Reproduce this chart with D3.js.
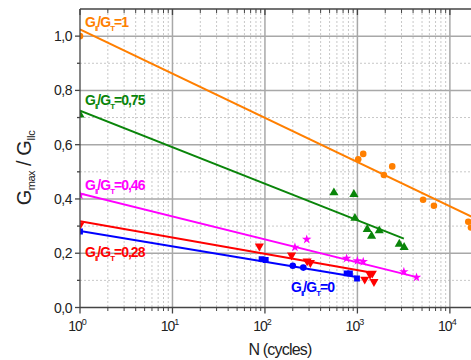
<!DOCTYPE html>
<html>
<head>
<meta charset="utf-8">
<script src="https://cdn.jsdelivr.net/npm/d3@7"></script>
<style>
  body { margin: 0; background: #fff; }
  svg { display: block; font-family: "Liberation Sans", Arial, sans-serif; }
</style>
</head>
<body>
<script>
// ratio labels, one per series
const ratioLabels = ["1", "0,75", "0,46", "0,28", "0"];

// measured points (N, Gmax/GIIc)
const orangeN = [1, 1020, 1156, 1933, 2380, 5130, 6720, 15800, 16900];
const orangeG = [1.0, 0.546, 0.566, 0.488, 0.52, 0.397, 0.375, 0.316, 0.295];
const greenN = [1, 557, 916, 940, 1277, 1423, 1722, 2836, 3200];
const greenG = [0.71, 0.423, 0.417, 0.329, 0.288, 0.263, 0.283, 0.234, 0.222];
const magentaN = [1, 211, 283, 764, 1000, 1156, 3180, 4360];
const magentaG = [0.414, 0.222, 0.251, 0.181, 0.172, 0.169, 0.132, 0.111];
const redN = [1, 87, 194, 286, 310, 1200, 1370, 1450, 1510];
const redG = [0.304, 0.226, 0.193, 0.171, 0.165, 0.104, 0.122, 0.126, 0.095];
const blueSqN = [1, 92, 102, 764, 830, 990];
const blueSqG = [0.28, 0.178, 0.175, 0.126, 0.126, 0.107];
const blueCircN = [200, 260];
const blueCircG = [0.154, 0.147];

// fitted lines, end points [N, G]
const orangeFit = [[1, 1.025], [17800, 0.332]];
const greenFit = [[1, 0.725], [3180, 0.254]];
const magentaFit = [[1, 0.42], [4500, 0.111]];
const redFit = [[1, 0.318], [1450, 0.128]];
const blueFit = [[1, 0.282], [980, 0.112]];

const yTicks = [0, 0.2, 0.4, 0.6, 0.8, 1.0];
const xDecades = [0, 1, 2, 3, 4];

const W = 471, H = 360;
const pLeft = 80, pTop = 9, pRight = 473, pBottom = 307.5;

const x = d3.scaleLog().domain([1, Math.pow(10, 4.25)]).range([pLeft, pRight]);
const y = d3.scaleLinear().domain([0, 1.1]).range([pBottom, pTop]);

const svg = d3.select("body").append("svg")
  .attr("width", W)
  .attr("height", H);

svg.append("clipPath").attr("id", "plot")
  .append("rect")
  .attr("x", pLeft).attr("y", pTop)
  .attr("width", pRight - pLeft).attr("height", pBottom - pTop);

// minor x values 2..9 per decade
const minorX = [];
xDecades.forEach(function(k) {
  for (let m = 2; m <= 9; m++) {
    const v = m * Math.pow(10, k);
    if (v < x.domain()[1]) minorX.push(v);
  }
});
const majorX = xDecades.map(function(k) { return Math.pow(10, k); });
const minorY = [0.1, 0.3, 0.5, 0.7, 0.9];

const grid = svg.append("g");
grid.selectAll(".mx").data(minorX).enter().append("line")
  .attr("x1", d => x(d)).attr("x2", d => x(d))
  .attr("y1", pTop).attr("y2", pBottom)
  .attr("stroke", "#c8c8c8").attr("stroke-width", 1)
  .attr("stroke-dasharray", "2,2");
grid.selectAll(".my").data(minorY).enter().append("line")
  .attr("x1", pLeft).attr("x2", W)
  .attr("y1", d => y(d)).attr("y2", d => y(d))
  .attr("stroke", "#c8c8c8").attr("stroke-width", 1)
  .attr("stroke-dasharray", "2,2");
grid.selectAll(".Mx").data(majorX.slice(1)).enter().append("line")
  .attr("x1", d => x(d)).attr("x2", d => x(d))
  .attr("y1", pTop).attr("y2", pBottom)
  .attr("stroke", "#a8a8a8").attr("stroke-width", 1.5);
grid.selectAll(".My").data(yTicks.slice(1)).enter().append("line")
  .attr("x1", pLeft).attr("x2", W)
  .attr("y1", d => y(d)).attr("y2", d => y(d))
  .attr("stroke", "#a8a8a8").attr("stroke-width", 1.5);

// series
const series = [
  { fit: orangeFit, n: orangeN, g: orangeG, color: "#ff7f00", sym: d3.symbolCircle, size: 34 },
  { fit: greenFit, n: greenN, g: greenG, color: "#0a850a", sym: d3.symbolTriangle, size: 36 },
  { fit: magentaFit, n: magentaN, g: magentaG, color: "#ff00ff", sym: d3.symbolStar, size: 28 },
  { fit: redFit, n: redN, g: redG, color: "#ff0000", sym: d3.symbolTriangle, size: 36, flip: true },
  { fit: blueFit, n: blueSqN, g: blueSqG, color: "#0000ff", sym: d3.symbolSquare, size: 34 }
];

const plot = svg.append("g").attr("clip-path", "url(#plot)");
const line = d3.line().x(d => x(d[0])).y(d => y(d[1]));

series.forEach(function(s) {
  plot.append("path")
    .attr("d", line(s.fit))
    .attr("fill", "none")
    .attr("stroke", s.color)
    .attr("stroke-width", 2);
});

series.forEach(function(s) {
  const pts = s.n.map((n, i) => [n, s.g[i]]);
  plot.selectAll(null).data(pts).enter().append("path")
    .attr("d", d3.symbol().type(s.sym).size(s.size))
    .attr("transform", d => "translate(" + x(d[0]) + "," + y(d[1]) + ")" + (s.flip ? " rotate(180)" : ""))
    .attr("fill", s.color);
});
plot.selectAll(null).data(blueCircN.map((n, i) => [n, blueCircG[i]])).enter().append("circle")
  .attr("cx", d => x(d[0])).attr("cy", d => y(d[1])).attr("r", 3.3)
  .attr("fill", "#0000ff");

// axes
const axisColor = "#444";
const ax = svg.append("g").attr("stroke", axisColor).attr("stroke-width", 1.3);
ax.append("line").attr("x1", pLeft).attr("x2", pLeft).attr("y1", pTop).attr("y2", pBottom + 0.5);
ax.append("line").attr("x1", pLeft).attr("x2", W).attr("y1", pBottom).attr("y2", pBottom);
ax.append("line").attr("x1", pLeft).attr("x2", W).attr("y1", pTop).attr("y2", pTop);

// left ticks
ax.selectAll(".yt").data(yTicks).enter().append("line")
  .attr("x1", pLeft - 5).attr("x2", pLeft)
  .attr("y1", d => y(d)).attr("y2", d => y(d));
ax.selectAll(".ytm").data(minorY).enter().append("line")
  .attr("x1", pLeft - 3).attr("x2", pLeft)
  .attr("y1", d => y(d)).attr("y2", d => y(d));
// bottom ticks
ax.selectAll(".xt").data(majorX).enter().append("line")
  .attr("x1", d => x(d)).attr("x2", d => x(d))
  .attr("y1", pBottom).attr("y2", pBottom + 6);
ax.selectAll(".xtm").data(minorX).enter().append("line")
  .attr("x1", d => x(d)).attr("x2", d => x(d))
  .attr("y1", pBottom).attr("y2", pBottom + 3.5)
  .attr("stroke-width", 1);
// top ticks (inside)
ax.selectAll(".tt").data(majorX).enter().append("line")
  .attr("x1", d => x(d)).attr("x2", d => x(d))
  .attr("y1", pTop).attr("y2", pTop + 6);
ax.selectAll(".ttm").data(minorX).enter().append("line")
  .attr("x1", d => x(d)).attr("x2", d => x(d))
  .attr("y1", pTop).attr("y2", pTop + 4)
  .attr("stroke-width", 1);

// tick labels
svg.selectAll(".yl").data(yTicks).enter().append("text")
  .attr("x", pLeft - 8).attr("y", d => y(d) + 5)
  .attr("text-anchor", "end")
  .attr("font-size", 14).attr("fill", "#222")
  .attr("letter-spacing", -0.5)
  .text(d => d3.format(".1f")(d).replace(".", ","));

const xl = svg.selectAll(".xl").data(xDecades).enter().append("text")
  .attr("x", d => x(Math.pow(10, d)) - 3).attr("y", 331)
  .attr("text-anchor", "middle")
  .attr("font-size", 14).attr("fill", "#222")
  .attr("letter-spacing", -1);
xl.append("tspan").text("10");
xl.append("tspan").attr("dy", -6).attr("font-size", 9).text(d => d);

// axis titles
svg.append("text")
  .attr("x", 280).attr("y", 355)
  .attr("text-anchor", "middle")
  .attr("font-size", 16).attr("fill", "#222")
  .attr("letter-spacing", -0.8)
  .text("N (cycles)");

const yt = svg.append("text")
  .attr("transform", "translate(31,168) rotate(-90)")
  .attr("text-anchor", "middle")
  .attr("font-size", 20).attr("fill", "#222")
  .attr("letter-spacing", -0.5);
yt.append("tspan").text("G");
yt.append("tspan").attr("dy", 4).attr("font-size", 11).text("max");
yt.append("tspan").attr("dy", -4).text(" / G");
yt.append("tspan").attr("dy", 4).attr("font-size", 11).text("IIc");
</script>
<script>
// series labels
const labelPos = [[85, 27], [85, 105], [85, 190], [85, 257], [291, 292]];
series.forEach(function(s, i) {
  const t = svg.append("text")
    .attr("x", labelPos[i][0]).attr("y", labelPos[i][1])
    .attr("font-size", 14).attr("font-weight", "bold")
    .attr("letter-spacing", -1)
    .attr("fill", s.color);
  t.append("tspan").text("G");
  t.append("tspan").attr("dy", 4).attr("font-size", 8).text("II");
  t.append("tspan").attr("dy", -4).text("/G");
  t.append("tspan").attr("dy", 4).attr("font-size", 8).text("T");
  t.append("tspan").attr("dy", -4).text("=" + ratioLabels[i]);
});
</script>
</body>
</html>
